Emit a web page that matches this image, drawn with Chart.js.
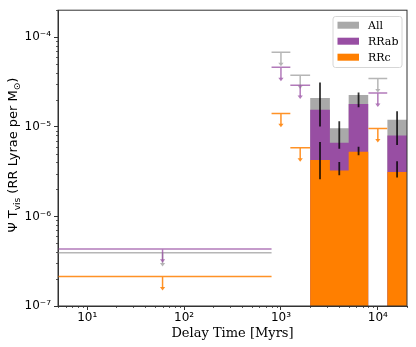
<!DOCTYPE html>
<html>
<head>
<meta charset="utf-8">
<script src="https://cdn.jsdelivr.net/npm/chart.js@4.4.0/dist/chart.umd.min.js"></script>
<style>
  html, body { margin: 0; padding: 0; background: #fff; }
  #wrap { width: 416px; height: 347px; }
</style>
</head>
<body>
<div id="wrap"><canvas id="dtdChart" width="416" height="347"></canvas></div>
<script>
// histogram bins (Myr) and rates
const barLo = [2000, 3200, 5000, 12500];
const barHi = [3200, 5000, 8000, 20000];
const allVals = [2.09e-5, 9.64e-6, 2.26e-5, 1.20e-5];
const rrabVals = [1.55e-5, 6.64e-6, 1.80e-5, 8.0e-6];
const rrcVals = [4.26e-6, 3.25e-6, 5.27e-6, 3.13e-6];

// error bars on the histogram
const errX = [2530, 4000, 6325, 15800];
const errAllLo = [1.01e-5, 5.69e-6, 1.65e-5, 6.25e-6];
const errAllHi = [3.12e-5, 1.15e-5, 2.42e-5, 1.49e-5];
const errRRcLo = [2.60e-6, 2.88e-6, 4.80e-6, 2.72e-6];
const errRRcHi = [6.75e-6, 4.05e-6, 5.98e-6, 4.12e-6];

// upper limits
const ulLo = [1, 800, 1250, 8000];
const ulHi = [800, 1250, 2000, 12500];
const ulX = [60, 1000, 1580, 10000];
const ulAll = [3.94e-7, 6.77e-5, 3.76e-5, 3.45e-5];
const ulRRab = [4.33e-7, 4.61e-5, 2.91e-5, 2.38e-5];
const ulRRc = [2.13e-7, 1.41e-5, 5.83e-6, 9.55e-6];

const xTicks = [10, 100, 1000, 10000];
const xTickLabels = ['10¹', '10²', '10³', '10⁴'];
const yTicks = [1e-7, 1e-6, 1e-5, 1e-4];
const yTickLabels = ['10⁻⁷', '10⁻⁶', '10⁻⁵', '10⁻⁴'];

const seriesNames = ['All', 'RRab', 'RRc'];
const GRAY = '#a9a9a9', PURPLE = '#984ea3', ORANGE = '#ff7f00';

const stepData = (vals) => {
  const pts = [];
  for (let i = 0; i < vals.length; i++) {
    pts.push({x: barLo[i], y: vals[i]});
    pts.push({x: barHi[i], y: vals[i]});
    if (i < vals.length - 1 && barLo[i + 1] !== barHi[i]) pts.push({x: barHi[i], y: null});
  }
  return pts;
};

const histSet = (label, vals, color, order) => ({
  label: label,
  data: stepData(vals),
  backgroundColor: color,
  borderColor: color,
  borderWidth: 0,
  pointRadius: 0,
  fill: 'start',
  spanGaps: false,
  tension: 0,
  order: order
});

const extrasPlugin = {
  id: 'extras',
  afterDatasetsDraw(chart) {
    const ctx = chart.ctx, xs = chart.scales.x, ys = chart.scales.y, a = chart.chartArea;
    ctx.save();
    ctx.beginPath();
    ctx.rect(a.left, a.top, a.right - a.left, a.bottom - a.top);
    ctx.clip();

    // error bars
    ctx.strokeStyle = 'rgba(0,0,0,0.8)';
    ctx.lineWidth = 1.8;
    const drawErr = (lo, hi) => {
      for (let i = 0; i < errX.length; i++) {
        const px = xs.getPixelForValue(errX[i]);
        ctx.beginPath();
        ctx.moveTo(px, ys.getPixelForValue(lo[i]));
        ctx.lineTo(px, ys.getPixelForValue(hi[i]));
        ctx.stroke();
      }
    };
    drawErr(errAllLo, errAllHi);
    drawErr(errRRcLo, errRRcHi);

    // upper limits
    const drawLimits = (vals, color) => {
      ctx.strokeStyle = color;
      ctx.fillStyle = color;
      ctx.lineWidth = 1.5;
      for (let i = 0; i < vals.length; i++) {
        const py = ys.getPixelForValue(vals[i]);
        const px = xs.getPixelForValue(ulX[i]);
        const tip = ys.getPixelForValue(vals[i] * 0.7);
        ctx.beginPath();
        ctx.moveTo(xs.getPixelForValue(ulLo[i]), py);
        ctx.lineTo(xs.getPixelForValue(ulHi[i]), py);
        ctx.moveTo(px, py);
        ctx.lineTo(px, tip - 3);
        ctx.stroke();
        ctx.beginPath();
        ctx.moveTo(px - 2.6, tip - 3.5);
        ctx.lineTo(px + 2.6, tip - 3.5);
        ctx.lineTo(px, tip);
        ctx.closePath();
        ctx.fill();
      }
    };
    drawLimits(ulAll, 'rgba(169,169,169,0.85)');
    drawLimits(ulRRab, 'rgba(152,78,163,0.75)');
    drawLimits(ulRRc, 'rgba(255,127,0,0.85)');
    ctx.restore();
  },
  afterDraw(chart) {
    const ctx = chart.ctx, xs = chart.scales.x, ys = chart.scales.y, a = chart.chartArea;
    ctx.save();
    // frame
    ctx.strokeStyle = '#333';
    ctx.lineWidth = 1;
    ctx.strokeRect(a.left, a.top, a.right - a.left, a.bottom - a.top);

    // minor ticks
    ctx.lineWidth = 0.8;
    ctx.beginPath();
    for (let e = -8; e <= -3; e++) {
      for (let k = 2; k <= 9; k++) {
        const v = k * Math.pow(10, e);
        if (v < ys.min || v > ys.max) continue;
        const py = Math.round(ys.getPixelForValue(v)) + 0.5;
        ctx.moveTo(a.left, py);
        ctx.lineTo(a.left - 2, py);
      }
    }
    for (let e = 0; e <= 4; e++) {
      for (let k = 2; k <= 9; k++) {
        const v = k * Math.pow(10, e);
        if (v < xs.min || v > xs.max) continue;
        const px = Math.round(xs.getPixelForValue(v)) + 0.5;
        ctx.moveTo(px, a.bottom);
        ctx.lineTo(px, a.bottom + 2);
      }
    }
    ctx.stroke();

    // legend
    const lx = a.right - 74, ly = a.top + 6.3, lw = 69, lh = 51;
    ctx.fillStyle = 'rgba(255,255,255,0.85)';
    ctx.strokeStyle = '#d6d6d6';
    ctx.lineWidth = 1;
    ctx.beginPath();
    ctx.roundRect(lx, ly, lw, lh, 2.5);
    ctx.fill();
    ctx.stroke();
    const legColors = [GRAY, PURPLE, ORANGE];
    ctx.font = '11px "DejaVu Serif"';
    ctx.textBaseline = 'middle';
    ctx.textAlign = 'left';
    for (let i = 0; i < seriesNames.length; i++) {
      const cy = ly + 8.7 + i * 16;
      ctx.fillStyle = legColors[i];
      ctx.fillRect(lx + 4.5, cy - 3.5, 21.5, 7);
      ctx.fillStyle = '#000';
      ctx.fillText(seriesNames[i], lx + 35, cy + 0.5);
    }

    // y axis title with subscripts
    const parts = [
      ['Ψ T', false], ['vis', true], [' (RR Lyrae per M', false], ['⊙', true], [')', false]
    ];
    const big = '13px "DejaVu Sans"', small = '9px "DejaVu Sans"';
    let total = 0;
    parts.forEach(p => { ctx.font = p[1] ? small : big; total += ctx.measureText(p[0]).width; });
    ctx.translate(14, (a.top + a.bottom) / 2 - 3);
    ctx.rotate(-Math.PI / 2);
    ctx.fillStyle = '#000';
    ctx.textBaseline = 'middle';
    let cx = -total / 2;
    parts.forEach(p => {
      ctx.font = p[1] ? small : big;
      ctx.fillText(p[0], cx, p[1] ? 4 : 0);
      cx += ctx.measureText(p[0]).width;
    });
    ctx.restore();
  }
};

new Chart(document.getElementById('dtdChart').getContext('2d'), {
  type: 'line',
  data: {
    datasets: [
      histSet(seriesNames[0], allVals, GRAY, 3),
      histSet(seriesNames[1], rrabVals, PURPLE, 2),
      histSet(seriesNames[2], rrcVals, ORANGE, 1)
    ]
  },
  options: {
    responsive: false,
    animation: false,
    layout: { padding: { left: 0, right: 9, top: 8, bottom: 0 } },
    plugins: { legend: { display: false }, tooltip: { enabled: false } },
    scales: {
      x: {
        type: 'logarithmic',
        min: 5,
        max: 20000,
        afterBuildTicks: (axis) => { axis.ticks = xTicks.map(v => ({value: v})); },
        afterFit: (axis) => { axis.height = 41; },
        grid: { drawOnChartArea: false, tickLength: 4, tickColor: '#333', tickWidth: 1 },
        border: { color: '#333' },
        ticks: {
          autoSkip: false,
          maxRotation: 0,
          padding: 1,
          color: '#000',
          font: { family: 'DejaVu Sans', size: 12 },
          callback: (v, i) => xTickLabels[i]
        },
        title: {
          display: true,
          text: 'Delay Time [Myrs]',
          color: '#000',
          font: { family: 'DejaVu Serif', size: 13 },
          padding: { top: 0, bottom: 6 }
        }
      },
      y: {
        type: 'logarithmic',
        min: 1e-7,
        max: 2e-4,
        afterBuildTicks: (axis) => { axis.ticks = yTicks.map(v => ({value: v})); },
        afterFit: (axis) => { axis.width = 58; },
        grid: { drawOnChartArea: false, tickLength: 4, tickColor: '#333', tickWidth: 1 },
        border: { color: '#333' },
        ticks: {
          autoSkip: false,
          padding: 3,
          color: '#000',
          font: { family: 'DejaVu Sans', size: 12 },
          callback: (v, i) => yTickLabels[i]
        }
      }
    }
  },
  plugins: [extrasPlugin]
});
</script>
</body>
</html>
